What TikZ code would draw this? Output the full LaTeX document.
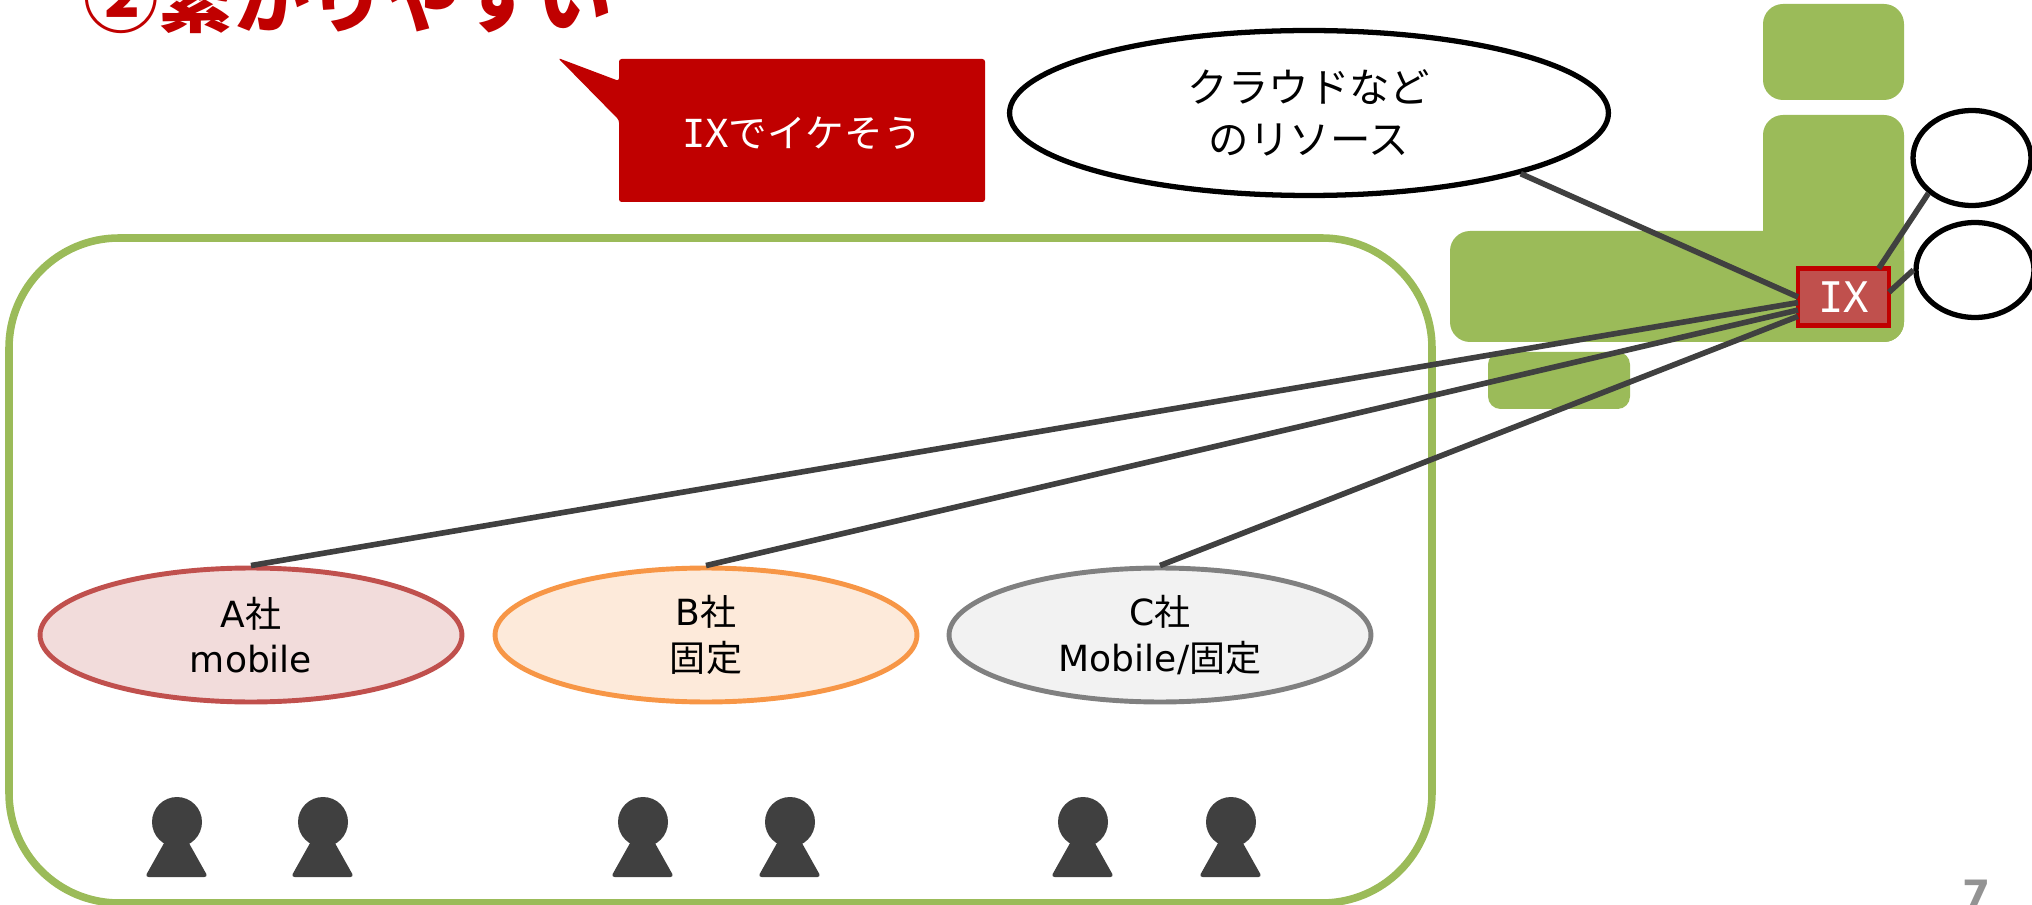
\documentclass[tikz,border=0pt]{standalone}
\usepackage{fontspec}
\usetikzlibrary{shapes.geometric}
\setmainfont{DejaVu Sans}
\newfontfamily\jpfont{Noto Sans CJK JP}
\newfontfamily\ixfont{DejaVu Sans Mono}
\newcommand{\jp}[1]{{\jpfont #1}}
\newcommand{\ix}{{\ixfont IX}}
\definecolor{landgreen}{HTML}{9BBB59}
\definecolor{darkred}{HTML}{C00000}
\definecolor{softred}{HTML}{C0504D}
\definecolor{linegray}{HTML}{404040}
\definecolor{softorange}{HTML}{F79646}
\tikzset{
	land/.style={fill=landgreen,rounded corners=0.4cm},
	link/.style={draw=linegray,line width=3.2pt},
	company/.style={ellipse,line width=2.8pt,minimum width=8.44cm,minimum height=2.68cm,align=center,inner sep=0pt,font=\fontsize{20.5}{26}\selectfont},
	blank/.style={ellipse,draw=black,fill=white,line width=3pt,minimum width=2.36cm,minimum height=1.9cm},
	person/.pic={
		\fill[linegray] (0,0) circle (25);
		\fill[linegray,rounded corners=2pt] (-9,14) -- (8,14) -- (31,55) -- (-32,55) -- cycle;
	}
}
\begin{document}
\begin{tikzpicture}[x=0.02cm,y=-0.02cm]
	\useasboundingbox (0,0) rectangle (2032,905);
	\node[anchor=base west,text=darkred,inner sep=0pt,font=\fontsize{43}{43}\selectfont\jpfont\bfseries] (title) at (83,27) {②繋がりやすい};
	\fill[darkred,rounded corners=1.5pt] (558,58) -- (619,81) -- (619,59) -- (985,59) -- (985,202) -- (619,202) -- (619,120) -- cycle;
	\node[text=white,font=\fontsize{22}{26}\selectfont] (callout) at (802,133) {\ix\jp{でイケそう}};
	\draw[landgreen,line width=4.3pt,rounded corners=2.2cm] (9,238) rectangle (1432,903);
	\fill[land] (1763,4) rectangle (1904,100);
	\fill[land] (1763,115) rectangle (1904,342);
	\fill[land] (1450,231) rectangle (1904,342);
	\fill[land,rounded corners=0.25cm] (1488,352) rectangle (1630,409);
	\node[ellipse,draw=black,fill=white,line width=3pt,minimum width=11.98cm,minimum height=3.3cm,align=center,inner sep=0pt,font=\fontsize{23}{29.5}\selectfont\jpfont] (cloud) at (1309,113) {クラウドなど\\のリソース};
	\node[blank] (upper) at (1972,158) {};
	\node[blank] (lower) at (1975,270) {};
	\node[draw=darkred,fill=softred,line width=2.8pt,text=white,minimum width=1.82cm,minimum height=1.14cm,inner sep=0pt,outer sep=0pt,font=\fontsize{24}{26}\selectfont] (ix) at (1843.5,297) {\ix};
	\node[company,draw=softred,fill=softred!20] (compa) at (251,635) {A\jp{社}\\mobile};
	\node[company,draw=softorange,fill=softorange!20] (compb) at (706,635) {B\jp{社}\\\jp{固定}};
	\node[company,draw=gray,fill=black!5] (compc) at (1160,635) {C\jp{社}\\Mobile/\jp{固定}};
	\draw[link] (cloud.-16) -- (ix.west);
	\draw[link] (upper.219) -- (ix.39);
	\draw[link] (lower.180) -- (ix.6);
	\draw[link] (compa.north) -- (ix.187);
	\draw[link] (compb.north) -- (ix.196);
	\draw[link] (compc.north) -- (ix.203);
	\foreach \px in {177,323,643,790,1083,1231}
		\pic at (\px,822) {person};
	\node[anchor=base,text=gray!85,font=\fontsize{23}{23}\selectfont\bfseries] (page) at (1977,909) {7};
\end{tikzpicture}
\end{document}
